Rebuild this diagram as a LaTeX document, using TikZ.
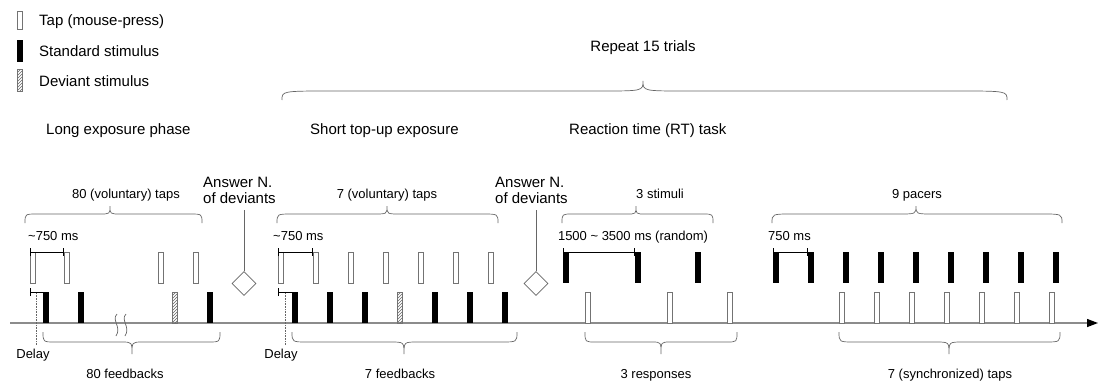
\documentclass[tikz,border=0pt]{standalone}
\usepackage{fontspec}
\setmainfont{Liberation Sans}
\usetikzlibrary{arrows.meta,shapes.geometric,patterns,calc}
\newcommand\mybrace[6]{%
  \draw[bracestyle] (#1,#4) .. controls (#1,#5) .. ({#1+0.07*(#3-#1)},#5) -- ({#2-0.06*(#3-#1)},#5)
    .. controls (#2,#5) .. (#2,#6) .. controls (#2,#5) .. ({#2+0.06*(#3-#1)},#5)
    -- ({#3-0.07*(#3-#1)},#5) .. controls (#3,#5) .. (#3,#4);}
\begin{document}
\begin{tikzpicture}[x=1pt,y=-1pt,
  tap/.style={draw=black!55, fill=white, line width=0.6pt, minimum width=5pt, minimum height=31pt, inner sep=0pt, outer sep=0pt, anchor=north west},
  std/.style={fill=black, minimum width=5.5pt, minimum height=31pt, inner sep=0pt, outer sep=0pt, anchor=north west},
  dev/.style={draw=black!55, line width=0.5pt, pattern=north east lines, pattern color=black!60, minimum width=5pt, minimum height=31pt, inner sep=0pt, outer sep=0pt, anchor=north west},
  big/.style={font=\fontsize{15}{18}\selectfont, inner sep=0pt},
  small/.style={font=\fontsize{13}{16}\selectfont, inner sep=0pt},
  bracestyle/.style={draw=black!60, line width=0.7pt},
  dim/.style={draw=black, line width=0.7pt, {Bar[width=8pt]}-{Bar[width=8pt]}},
  dimleft/.style={draw=black, line width=0.7pt, {Bar[width=8pt]}-},
  dotline/.style={draw=black!60, line width=0.6pt, densely dotted},
  conn/.style={draw=black!60, line width=0.7pt},
  answer/.style={diamond, draw=black!60, line width=0.7pt, aspect=1, minimum width=24pt, minimum height=24pt, inner sep=0pt, fill=white},
  axis/.style={draw=black!45, line width=1.3pt, -{Triangle[length=11pt,width=8pt,color=black]}}]
\useasboundingbox (0,0) rectangle (1102,381);

% legend
\node[tap, minimum height=18pt] (legtap) at (17,11.5) {};
\node[std, minimum height=22pt] (legstd) at (17,39.5) {};
\node[dev, minimum height=22pt] (legdev) at (17,69.5) {};
\node[big, anchor=base west] (legtapt) at (39,25) {Tap (mouse-press)};
\node[big, anchor=base west] (legstdt) at (39,56) {Standard stimulus};
\node[big, anchor=base west] (legdevt) at (39,86) {Deviant stimulus};

% headings
\node[big, anchor=base] (rep) at (643,51) {Repeat 15 trials};
\mybrace{282}{643}{1007}{100}{91}{81}
\node[big, anchor=base west] (h1) at (46,134.5) {Long exposure phase};
\node[big, anchor=base west] (h2) at (310,134.5) {Short top-up exposure};
\node[big, anchor=base west] (h3) at (569,134.5) {Reaction time (RT) task};

% time axis
\coordinate (axs) at (10,323);
\coordinate (axe) at (1098,323);
\draw[axis] (axs) -- (axe);

% ---------- section 1 : long exposure
\foreach \x [count=\i] in {30,64,158,193} \node[tap] (at\i) at (\x,252) {};
\node[std] (ab1) at (43,292) {};
\node[std] (ab2) at (78,292) {};
\node[dev] (ab3) at (172,292) {};
\node[std] (ab4) at (207,292) {};
\draw[dim] (at1.north west) -- (at2.north west);
\draw[dimleft] (at1.north west |- ab1.north west) -- (ab1.north west);
\draw[dotline] (36.5,293) -- (36.5,345);
\node[small, anchor=base] (s1top) at (126,198) {80 (voluntary) taps};
\node[small, anchor=base west] (s1ms) at (28,240) {\textasciitilde750 ms};
\node[small, anchor=base] (s1delay) at (33,358) {Delay};
\node[small, anchor=base] (s1bot) at (125,378) {80 feedbacks};
\mybrace{25}{110}{202}{223}{214}{206}
\mybrace{43}{132}{220}{332}{342}{354}
% break mark
\draw[conn] (117,314) .. controls (111,320) and (122,327) .. (116,336);
\draw[conn] (126,314) .. controls (120,320) and (131,327) .. (125,336);

% answer 1
\node[big, anchor=base west] (ans1a) at (203,187) {Answer N.};
\node[big, anchor=base west] (ans1b) at (203,203) {of deviants};
\node[answer] (dia1) at (244,283.5) {};
\coordinate (ans1end) at (244,210);
\draw[conn] (dia1.north) -- (ans1end);

% ---------- section 2 : short top-up exposure
\foreach \x [count=\i] in {278,313,348,383,418,453,488} \node[tap] (bt\i) at (\x,252) {};
\foreach \x [count=\i] in {292,327,362} \node[std] (bb\i) at (\x,292) {};
\node[dev] (bb4) at (397,292) {};
\foreach \x [count=\i from 5] in {432,467,502} \node[std] (bb\i) at (\x,292) {};
\draw[dim] (bt1.north west) -- (bt2.north west);
\draw[dimleft] (bt1.north west |- bb1.north west) -- (bb1.north west);
\draw[dotline] (285,293) -- (285,345);
\node[small, anchor=base] (s2top) at (387,198) {7 (voluntary) taps};
\node[small, anchor=base west] (s2ms) at (273,240) {\textasciitilde750 ms};
\node[small, anchor=base] (s2delay) at (281,358) {Delay};
\node[small, anchor=base] (s2bot) at (400,378) {7 feedbacks};
\mybrace{277}{387}{498}{223}{214}{206}
\mybrace{292}{404}{517}{332}{342}{354}

% answer 2
\node[big, anchor=base west] (ans2a) at (495,187) {Answer N.};
\node[big, anchor=base west] (ans2b) at (495,203) {of deviants};
\node[answer] (dia2) at (536,283.5) {};
\coordinate (ans2end) at (536,210);
\draw[conn] (dia2.north) -- (ans2end);

% ---------- section 3 : RT task
\foreach \x [count=\i] in {563,635,695} \node[std] (ct\i) at (\x,252) {};
\foreach \x [count=\i] in {585,667,727} \node[tap] (cb\i) at (\x,292) {};
\draw[dim] (ct1.north west) -- (ct2.north west);
\node[small, anchor=base] (s3top) at (660,198) {3 stimuli};
\node[small, anchor=base] (s3ms) at (633,240) {1500 \textasciitilde{} 3500 ms (random)};
\node[small, anchor=base] (s3bot) at (656,378) {3 responses};
\mybrace{562}{636}{713}{223}{214}{206}
\mybrace{585}{661}{737}{332}{342}{354}

% ---------- section 4 : synchronization
\foreach \i in {0,...,8} \node[std] (dt\i) at ({773+35*\i},252) {};
\foreach \i in {0,...,6} \node[tap] (db\i) at ({839+35*\i},292) {};
\draw[dim] (dt0.north west) -- (dt1.north west);
\node[small, anchor=base] (s4top) at (917,198) {9 pacers};
\node[small, anchor=base west] (s4ms) at (768,240) {750 ms};
\node[small, anchor=base] (s4bot) at (950,378) {7 (synchronized) taps};
\mybrace{772}{916}{1062}{223}{214}{206}
\mybrace{839}{949}{1060}{332}{342}{354}
\end{tikzpicture}
\end{document}
